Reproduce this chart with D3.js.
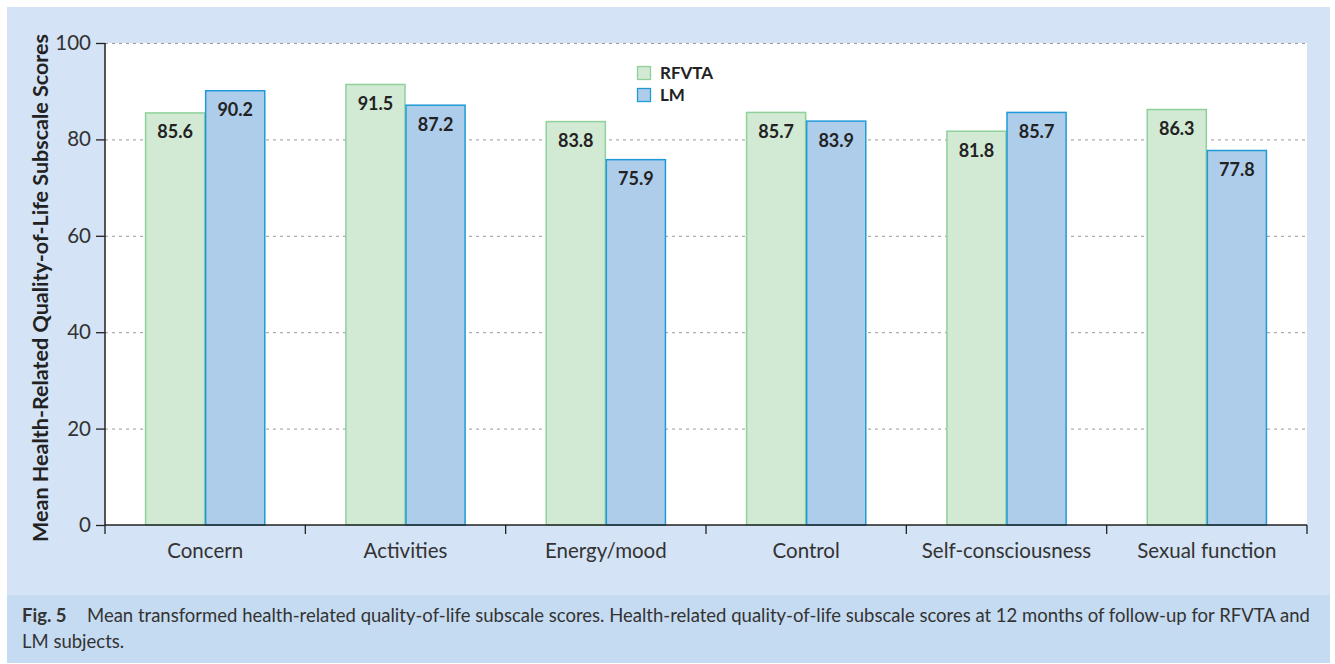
<!DOCTYPE html>
<html><head><meta charset="utf-8">
<script src="https://cdn.jsdelivr.net/npm/d3@7"></script>
<style>body{margin:0;background:#fff}svg{display:block}</style>
</head><body>
<script>
const categories = ["Concern","Activities","Energy/mood","Control","Self-consciousness","Sexual function"];
const seriesNames = ["RFVTA","LM"];
const rfvta = [85.6,91.5,83.8,85.7,81.8,86.3];
const lm = [90.2,87.2,75.9,83.9,85.7,77.8];
const yTicks = [0,20,40,60,80,100];
const yTitle = "Mean Health-Related Quality-of-Life Subscale Scores";
const captionBold = "Fig. 5";
const captionLines = ["Mean transformed health-related quality-of-life subscale scores. Health-related quality-of-life subscale scores at 12 months of follow-up for RFVTA and","LM subjects."];

const W=1335,H=664;
const fills=["#d2e9d3","#aecdeb"], strokes=["#8fd19b","#1f9ad8"];
const font="Lato, 'Open Sans', sans-serif";
const svg=d3.select("body").append("svg").attr("width",W).attr("height",H);
svg.append("rect").attr("x",7).attr("y",7).attr("width",1323).attr("height",588).attr("fill","#d4e3f5");
svg.append("rect").attr("x",7).attr("y",595).attr("width",1323).attr("height",68).attr("fill","#c5dbf1");

const m={l:105,r:1307,t:43,b:525};
svg.append("rect").attr("x",m.l).attr("y",m.t).attr("width",m.r-m.l).attr("height",m.b-m.t).attr("fill","#fff");
const x=d3.scaleBand().domain(categories).range([m.l,m.r]);
const y=d3.scaleLinear().domain([0,100]).range([m.b,m.t]);
const x1=d3.scaleBand().domain(seriesNames).range([0,x.bandwidth()*0.6]);
const off=x.bandwidth()*0.2;

// grid
svg.append("g").selectAll("line").data(yTicks.filter(d=>d>0)).join("line")
 .attr("x1",m.l).attr("x2",m.r).attr("y1",d=>y(d)+0.5).attr("y2",d=>y(d)+0.5)
 .attr("stroke","#999").attr("stroke-width",1).attr("stroke-dasharray","3,4");

const data=categories.map((c,i)=>({c,vals:[rfvta[i],lm[i]]}));
const g=svg.append("g").selectAll("g").data(data).join("g").attr("transform",d=>`translate(${x(d.c)+off},0)`);
g.selectAll("rect").data(d=>d.vals.map((v,j)=>({v,j,s:seriesNames[j]}))).join("rect")
 .attr("x",d=>x1(d.s)+0.5).attr("y",d=>y(d.v)+0.5).attr("width",x1.bandwidth()-1).attr("height",d=>y(0)-y(d.v)-0.5)
 .attr("fill",d=>fills[d.j]).attr("stroke",d=>strokes[d.j]).attr("stroke-width",1.5);
g.selectAll("text").data(d=>d.vals.map((v,j)=>({v,j,s:seriesNames[j]}))).join("text")
 .attr("x",d=>x1(d.s)+x1.bandwidth()/2).attr("y",d=>y(d.v)+26).attr("text-anchor","middle")
 .attr("font-family",font).attr("font-weight","bold").attr("font-size",18).attr("fill","#222")
 .text(d=>d.v.toFixed(1));

// axes
const ya=svg.append("g").attr("transform",`translate(${m.l},0)`).call(d3.axisLeft(y).tickValues(yTicks).tickSize(9).tickPadding(5));
ya.select(".domain").attr("stroke","#222").attr("stroke-width",1.5).attr("d",`M0,${m.t}V${m.b}`);
ya.selectAll(".tick line").attr("stroke","#222").attr("stroke-width",1.3);
ya.selectAll("text").attr("font-family",font).attr("font-size",20.5).attr("fill","#333");
const xa=svg.append("g").attr("transform",`translate(0,${m.b})`).call(d3.axisBottom(x).tickSize(0).tickPadding(18));
xa.select(".domain").attr("stroke","#222").attr("stroke-width",1.5).attr("d",`M${m.l},0H${m.r}`);
xa.selectAll("text").attr("font-family",font).attr("font-size",20.5).attr("fill","#333");
svg.append("g").selectAll("line").data(categories.concat(["_end"])).join("line")
 .attr("x1",(d,i)=>i<categories.length?x(d):m.r).attr("x2",(d,i)=>i<categories.length?x(d):m.r)
 .attr("y1",m.b).attr("y2",m.b+9).attr("stroke","#222").attr("stroke-width",1.3);

svg.append("text").attr("transform",`translate(48,${(m.t+m.b)/2+4}) rotate(-90)`).attr("text-anchor","middle")
 .attr("font-family",font).attr("font-weight","bold").attr("font-size",21.5).attr("fill","#222").text(yTitle);

// legend
const lg=svg.append("g").selectAll("g").data(seriesNames).join("g").attr("transform",(d,i)=>`translate(637,${66+i*22})`);
lg.append("rect").attr("x",0.5).attr("y",0.5).attr("width",13).attr("height",13).attr("fill",(d,i)=>fills[i]).attr("stroke",(d,i)=>strokes[i]).attr("stroke-width",1.3);
lg.append("text").attr("x",23).attr("y",13).attr("font-family",font).attr("font-weight","bold").attr("font-size",17).attr("fill","#222").text(d=>d);

// caption
const cap=svg.append("text").attr("font-family",font).attr("font-size",18.5).attr("fill","#333");
cap.append("tspan").attr("x",22).attr("y",622).attr("font-weight","bold").text(captionBold);
cap.append("tspan").attr("x",87).attr("y",622).text(captionLines[0]);
cap.append("tspan").attr("x",22).attr("y",648).text(captionLines[1]);
</script>
</body></html>
